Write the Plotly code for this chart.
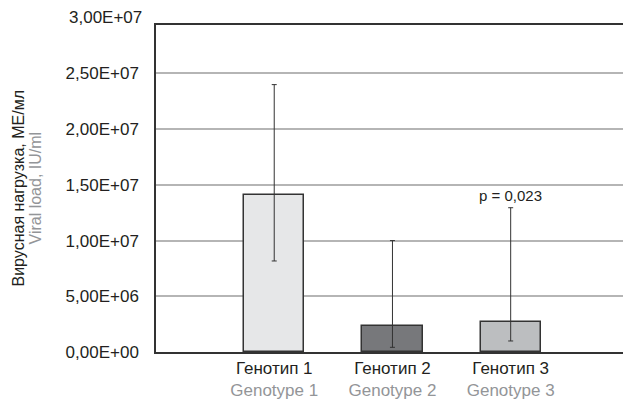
import plotly.graph_objects as go

categories_ru = ["Генотип 1", "Генотип 2", "Генотип 3"]
categories_en = ["Genotype 1", "Genotype 2", "Genotype 3"]
x_pos = [1, 2, 3]
values = [1.41e7, 2.33e6, 2.72e6]
err_upper = [2.40e7, 1.00e7, 1.295e7]
err_lower = [8.17e6, 4.2e5, 9.9e5]
bar_colors = ["#e6e7e8", "#77787b", "#bcbec0"]
tick_vals = [0, 5e6, 1e7, 1.5e7, 2e7, 2.5e7]
tick_text = ["0,00E+00", "5,00E+06", "1,00E+07", "1,50E+07", "2,00E+07", "2,50E+07"]
top_tick_val = 3e7
top_tick_text = "3,00E+07"
p_text = "p = 0,023"
y_max = 2.935e7

FONT = "Liberation Sans, Arial, sans-serif"
DARK = "#231f20"
GRAY = "#939598"

fig = go.Figure()
fig.add_trace(go.Bar(
    x=x_pos, y=values, width=0.51,
    marker=dict(color=bar_colors, line=dict(color="#333333", width=1.5)),
    error_y=dict(type="data", symmetric=False,
                 array=[u - v for u, v in zip(err_upper, values)],
                 arrayminus=[v - l for v, l in zip(values, err_lower)],
                 color="#333333", thickness=1, width=2.5),
    showlegend=False,
))

fig.update_layout(
    width=623, height=405,
    margin=dict(l=156, r=0, t=25, b=53),
    paper_bgcolor="white", plot_bgcolor="white",
    font=dict(family=FONT, size=17, color=DARK),
    bargap=0,
    xaxis=dict(
        range=[0, 3.95],
        tickvals=x_pos,
        ticktext=[f"{r}<br><span style='color:{GRAY}'>{e}</span>" for r, e in zip(categories_ru, categories_en)],
        showline=True, linecolor="#333333", linewidth=1.5, mirror=True,
        ticks="", showgrid=False, zeroline=False,
        tickfont=dict(size=17, color=DARK),
    ),
    yaxis=dict(
        range=[0, y_max],
        tickvals=tick_vals, ticktext=tick_text,
        showline=True, linecolor="#333333", linewidth=1.5,
        showgrid=True, gridcolor="#b5b5b5", gridwidth=1.5,
        zeroline=False, ticks="", ticklabelstandoff=12,
        tickfont=dict(size=17, color=DARK),
    ),
)

fig.add_annotation(x=0, xref="paper", y=top_tick_val / y_max, yref="paper",
                   text=top_tick_text, showarrow=False, xanchor="right",
                   yanchor="middle", xshift=-12,
                   font=dict(size=17, color=DARK, family=FONT))

fig.add_annotation(x=x_pos[2], xref="x", y=err_upper[2], yref="y",
                   text=p_text, showarrow=False, yanchor="bottom", yshift=2,
                   font=dict(size=15, color=DARK, family=FONT))

fig.add_annotation(x=0, xref="paper", xshift=-138, y=0.5, yref="paper",
                   xanchor="center", yanchor="middle",
                   text="Вирусная нагрузка, МЕ/мл", textangle=-90, showarrow=False,
                   font=dict(size=16, color=DARK, family=FONT))
fig.add_annotation(x=0, xref="paper", xshift=-121, y=0.5, yref="paper",
                   xanchor="center", yanchor="middle",
                   text="Viral load, IU/ml", textangle=-90, showarrow=False,
                   font=dict(size=16, color=GRAY, family=FONT))

fig.write_html("out.html",
               config={"displayModeBar": False},
               post_script="document.body.style.margin='0';document.body.style.overflow='hidden';document.documentElement.style.overflow='hidden';")
